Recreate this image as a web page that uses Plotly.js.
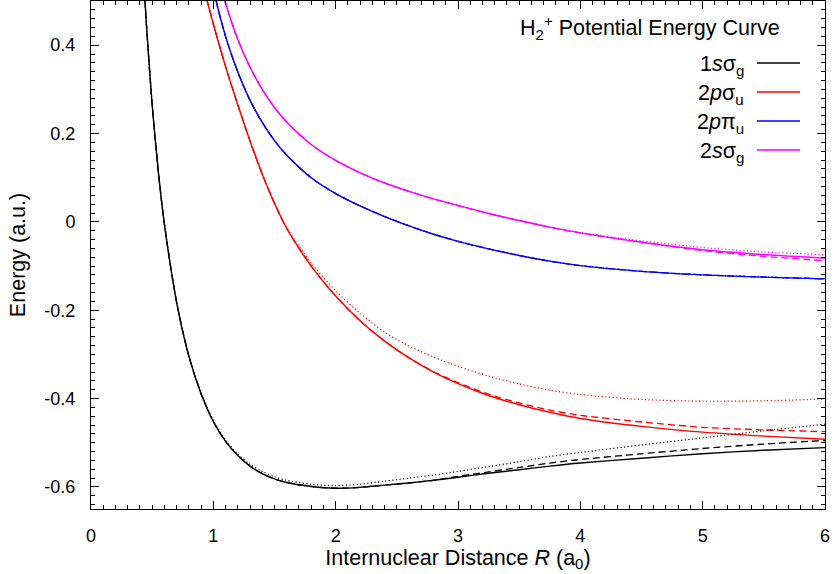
<!DOCTYPE html>
<html>
<head>
<meta charset="utf-8">
<script src="https://cdn.plot.ly/plotly-3.0.1.min.js"></script>
<style>html,body{margin:0;padding:0;background:#fff;}#plot{width:835px;height:574px;}</style>
</head>
<body>
<div id="plot"></div>
<script>
// Internuclear distance grids (a0)
const R_ground = [0.40, 0.45, 0.50, 0.55, 0.60, 0.70, 0.80, 0.90, 1.00, 1.10, 1.20, 1.30, 1.40, 1.50, 1.60, 1.80, 2.00, 2.20, 2.40, 2.60, 2.80, 3.00, 3.25, 3.50, 3.75, 4.00, 4.50, 5.00, 5.50, 6.00];
const R_excited = [0.90, 1.00, 1.10, 1.20, 1.30, 1.40, 1.50, 1.60, 1.80, 2.00, 2.20, 2.40, 2.60, 2.80, 3.00, 3.25, 3.50, 3.75, 4.00, 4.50, 5.00, 5.50, 6.00];

// 1s sigma_g (black)
const E_1sg_solid  = [0.700, 0.460, 0.265, 0.115, -0.005, -0.182, -0.304, -0.389, -0.452, -0.497, -0.529, -0.553, -0.570, -0.582, -0.590, -0.599, -0.603, -0.601, -0.596, -0.591, -0.585, -0.578, -0.569, -0.561, -0.553, -0.546, -0.535, -0.525, -0.517, -0.511];
const E_1sg_dashed = [0.700, 0.460, 0.265, 0.115, -0.005, -0.182, -0.304, -0.389, -0.452, -0.497, -0.529, -0.553, -0.570, -0.582, -0.590, -0.599, -0.603, -0.601, -0.596, -0.591, -0.585, -0.576, -0.566, -0.556, -0.546, -0.538, -0.525, -0.513, -0.503, -0.495];
const E_1sg_dotted = [0.700, 0.460, 0.265, 0.115, -0.005, -0.182, -0.304, -0.388, -0.450, -0.494, -0.526, -0.549, -0.565, -0.577, -0.585, -0.594, -0.597, -0.594, -0.587, -0.580, -0.573, -0.565, -0.554, -0.543, -0.531, -0.522, -0.505, -0.489, -0.473, -0.458];

// 2p sigma_u (red)
const E_2pu_solid  = [0.552, 0.448, 0.352, 0.265, 0.183, 0.108, 0.042, -0.015, -0.100, -0.168, -0.224, -0.270, -0.308, -0.340, -0.366, -0.393, -0.414, -0.431, -0.445, -0.463, -0.476, -0.485, -0.492];
const E_2pu_dashed = [0.552, 0.448, 0.352, 0.265, 0.183, 0.108, 0.042, -0.015, -0.100, -0.168, -0.224, -0.270, -0.308, -0.339, -0.364, -0.390, -0.410, -0.426, -0.438, -0.453, -0.465, -0.471, -0.475];
const E_2pu_dotted = [0.552, 0.448, 0.352, 0.265, 0.183, 0.108, 0.042, -0.013, -0.093, -0.156, -0.207, -0.250, -0.281, -0.306, -0.327, -0.349, -0.367, -0.381, -0.391, -0.402, -0.406, -0.405, -0.401];

// 2p pi_u (blue)
const E_2ppi_solid = [0.672, 0.527, 0.420, 0.339, 0.275, 0.225, 0.184, 0.151, 0.100, 0.064, 0.036, 0.012, -0.009, -0.028, -0.044, -0.061, -0.076, -0.089, -0.099, -0.112, -0.120, -0.125, -0.129];

// 2s sigma_g (magenta)
const E_2sg_solid  = [0.746, 0.602, 0.495, 0.413, 0.350, 0.300, 0.259, 0.226, 0.175, 0.139, 0.111, 0.088, 0.069, 0.052, 0.037, 0.019, 0.003, -0.012, -0.025, -0.046, -0.063, -0.074, -0.082];
const E_2sg_dashed = [0.746, 0.602, 0.495, 0.413, 0.350, 0.300, 0.259, 0.226, 0.175, 0.139, 0.111, 0.088, 0.069, 0.052, 0.037, 0.019, 0.003, -0.012, -0.025, -0.046, -0.065, -0.078, -0.088];
const E_2sg_dotted = [0.746, 0.602, 0.495, 0.413, 0.350, 0.300, 0.259, 0.226, 0.175, 0.139, 0.111, 0.088, 0.069, 0.052, 0.037, 0.019, 0.003, -0.012, -0.024, -0.043, -0.058, -0.068, -0.0745];

// Legend labels and tick labels
const legendLabels = ["1<i>s</i>σ<sub>g</sub>", "2<i>p</i>σ<sub>u</sub>", "2<i>p</i>π<sub>u</sub>", "2<i>s</i>σ<sub>g</sub>"];
const legendColors = ["#000000", "#ff0000", "#0000ff", "#ff00ff"];
const xTickVals = [0, 1, 2, 3, 4, 5, 6];
const yTickVals = [-0.6, -0.4, -0.2, 0, 0.2, 0.4];
const yTickText = ["-0.6", "-0.4", "-0.2", "0", "0.2", "0.4"];

const FONT = "Liberation Sans, Arial, Helvetica, sans-serif";
const W = 835, H = 574;
const M = {l: 91, r: 10, t: 1, b: 65};
const pw = W - M.l - M.r, ph = H - M.t - M.b;
const px2paperX = p => (p - M.l) / pw;
const px2paperY = p => 1 - (p - M.t) / ph;

function tr(x, y, color, style) {
  const line = {color: color, width: 1.4, shape: 'spline', smoothing: 0.8};
  if (style === 'dash') { line.dash = '7px,4px'; line.width = 1.3; }
  if (style === 'dot') { line.dash = '1.2px,2.4px'; line.width = 1.2; }
  return {x: x, y: y, type: 'scatter', mode: 'lines', line: line, showlegend: false, hoverinfo: 'skip'};
}

const data = [
  tr(R_excited, E_2sg_dotted, '#ff00ff', 'dot'),
  tr(R_excited, E_2sg_dashed, '#ff00ff', 'dash'),
  tr(R_excited, E_2sg_solid, '#ff00ff', 'solid'),
  tr(R_excited, E_2ppi_solid, '#0000ff', 'dot'),
  tr(R_excited, E_2ppi_solid, '#0000ff', 'dash'),
  tr(R_excited, E_2ppi_solid, '#0000ff', 'solid'),
  tr(R_excited, E_2pu_dotted, '#ff0000', 'dot'),
  tr(R_excited, E_2pu_dashed, '#ff0000', 'dash'),
  tr(R_excited, E_2pu_solid, '#ff0000', 'solid'),
  tr(R_ground, E_1sg_dotted, '#000000', 'dot'),
  tr(R_ground, E_1sg_dashed, '#000000', 'dash'),
  tr(R_ground, E_1sg_solid, '#000000', 'solid')
];

const annotations = [{
  xref: 'paper', yref: 'paper', x: px2paperX(782), y: px2paperY(27),
  xanchor: 'right', yanchor: 'middle', showarrow: false,
  text: "H<sub>2</sub><sup>+</sup> Potential Energy Curve",
  font: {family: FONT, size: 21.5, color: '#000'}
}];
const shapes = [];
const rowY = [63, 92, 121, 150];
for (let i = 0; i < legendLabels.length; i++) {
  annotations.push({
    xref: 'paper', yref: 'paper', x: px2paperX(746), y: px2paperY(rowY[i] + 2),
    xanchor: 'right', yanchor: 'middle', showarrow: false,
    text: legendLabels[i], font: {family: FONT, size: 21.5, color: '#000'}
  });
  shapes.push({
    type: 'line', xref: 'paper', yref: 'paper',
    x0: px2paperX(757), x1: px2paperX(800), y0: px2paperY(rowY[i]), y1: px2paperY(rowY[i]),
    line: {color: legendColors[i], width: 1.4}
  });
}

const layout = {
  width: W, height: H,
  margin: M,
  paper_bgcolor: '#fff', plot_bgcolor: '#fff',
  font: {family: FONT, size: 18, color: '#000'},
  showlegend: false,
  xaxis: {
    range: [0, 6], tickvals: xTickVals, ticks: 'inside', ticklen: 8, tickwidth: 1, tickcolor: '#000',
    showline: true, linecolor: '#000', linewidth: 1, mirror: 'allticks', showgrid: false, zeroline: false,
    ticklabelstandoff: 10,
    minor: {dtick: 0.1, ticks: 'inside', ticklen: 4, tickcolor: '#000', showgrid: false},
    title: {text: "Internuclear Distance <i>R</i> (a<sub>0</sub>)", font: {family: FONT, size: 21.5}, standoff: 0},
    tickfont: {family: FONT, size: 18}
  },
  yaxis: {
    range: [-0.65, 0.5], tickvals: yTickVals, ticktext: yTickText, ticks: 'inside', ticklen: 8, tickwidth: 1, tickcolor: '#000',
    showline: true, linecolor: '#000', linewidth: 1, mirror: 'allticks', showgrid: false, zeroline: false,
    ticklabelstandoff: 11,
    minor: {dtick: 0.02, ticks: 'inside', ticklen: 4, tickcolor: '#000', showgrid: false},
    title: {text: "Energy (a.u.)", font: {family: FONT, size: 21.5}, standoff: 12},
    tickfont: {family: FONT, size: 18}
  },
  annotations: annotations,
  shapes: shapes
};

Plotly.newPlot('plot', data, layout, {displayModeBar: false, staticPlot: true});
</script>
</body>
</html>
